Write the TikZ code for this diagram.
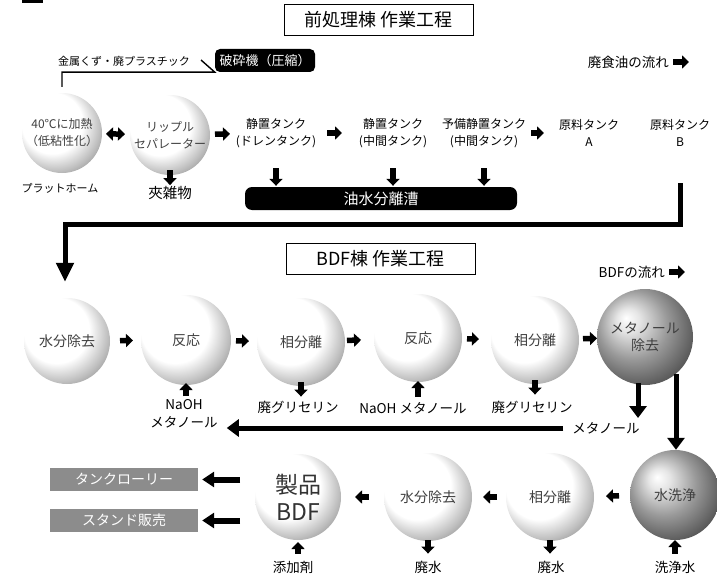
\documentclass[tikz,border=0pt]{standalone}
\usepackage{fontspec}
\setmainfont{Noto Sans CJK JP}
\usetikzlibrary{arrows.meta,calc}
\pgfdeclareradialshading{sphl}{\pgfpoint{-10bp}{10bp}}{color(0bp)=(white); color(19bp)=(white); color(28bp)=(black!25); color(36bp)=(black!50); color(43bp)=(black!70); color(50bp)=(black!80)}
\pgfdeclareradialshading{sphd}{\pgfpoint{-10bp}{10bp}}{color(0bp)=(white); color(6bp)=(black!10); color(18bp)=(black!40); color(30bp)=(black!65); color(40bp)=(black!82); color(50bp)=(black!90)}
\begin{document}
\begin{tikzpicture}[x=1pt,y=-1pt,
 sph/.style={circle,inner sep=0pt,minimum size=#1,shading=sphl,align=center,text=black!75,font=\fontsize{14}{17}\selectfont},
 sph/.default=88pt,
 dsph/.style={sph=#1,shading=sphd,text=black!75},
 dsph/.default=92pt,
 lbl/.style={align=center,inner sep=1pt,font=\fontsize{13.5}{18}\selectfont},
 tank/.style={align=center,inner sep=0pt,minimum height=70pt,font=\fontsize{12}{17}\selectfont},
 blk/.style={line width=5.5pt,-{Triangle[length=7pt,width=13pt]}},
 blkd/.style={line width=5.5pt,{Triangle[length=7pt,width=13pt]}-{Triangle[length=7pt,width=13pt]}},
 barr/.style={line width=5pt,-{Triangle[length=12pt,width=17pt]}},
 larr/.style={line width=5pt,-{Triangle[length=19pt,width=17pt]}},
 garr/.style={line width=6pt,-{Triangle[length=12pt,width=15pt]}},
 sh/.style 2 args={shorten <=#1,shorten >=#2},
 tbox/.style={draw=black,line width=0.8pt,minimum width=189pt,minimum height=31pt,inner sep=0pt,font=\fontsize{18}{20}\selectfont},
 bbox/.style={fill=black,text=white,inner sep=0pt},
 gbox/.style={fill=black!45,text=white,minimum width=148pt,minimum height=23pt,inner sep=0pt,font=\fontsize{14}{16}\selectfont}
]
\useasboundingbox (0,0) rectangle (717,583);
\fill (22,0) rectangle (43,3.5);

% ---------- pre-processing building ----------
\node[tbox] (title1) at (378.5,20) {前処理棟 作業工程};
\node[lbl,font=\fontsize{11}{13}\selectfont] (scrap) at (124,61) {金属くず・廃プラスチック};
\node[bbox,rounded corners=5pt,minimum width=100pt,minimum height=23pt,font=\fontsize{13}{15}\selectfont] (crusher) at (265,60.5) {破砕機（圧縮）};
\node[lbl,anchor=east,font=\fontsize{13.5}{16}\selectfont] (flow1) at (670,62) {廃食油の流れ};
\coordinate (f1) at (689,62);

\node[sph=80pt,font=\fontsize{12}{17}\selectfont] (r1) at (62,133) {40℃に加熱\\（低粘性化）};
\node[sph=80pt,font=\fontsize{12}{17}\selectfont] (r2) at (170,135) {リップル\\セパレーター};
\node[tank] (t1) at (276,133) {静置タンク\\(ドレンタンク)};
\node[tank] (t2) at (393,133) {静置タンク\\(中間タンク)};
\node[tank] (t3) at (484,133) {予備静置タンク\\(中間タンク)};
\node[tank] (ta) at (589,133) {原料タンク\\A};
\node[tank] (tb) at (680,133) {原料タンク\\B};
\node[lbl,font=\fontsize{11}{13}\selectfont] (plat) at (60,188) {プラットホーム};
\node[lbl,font=\fontsize{14.5}{16}\selectfont] (kz) at (170,193) {夾雑物};
\node[bbox,rounded corners=7pt,minimum width=272pt,minimum height=23pt,font=\fontsize{15}{17}\selectfont] (sep) at (381,198.5) {油水分離漕};

\draw[line width=1.4pt,shorten <=6pt] (r1.north) |- (crusher.south west) -- (201,60);
\draw[blk,shorten <=3pt] (flow1.east) -- (f1);
\draw[blkd,sh={44pt}{45pt}] (r1.center) -- (r2.center);
\draw[blk,sh={45pt}{46pt}] (r2.center) -- (t1.center);
\draw[blk,sh={51pt}{51pt}] (t1.center) -- (t2.center);
\draw[blk,sh={47pt}{45pt}] (t3.center) -- (ta.center);
\draw[blk,sh={35pt}{0pt}] (r2.center) -- (kz.north);
\draw[blk,sh={35pt}{1pt}] (t1.center) -- (t1.center |- sep.north);
\draw[blk,sh={35pt}{1pt}] (t2.center) -- (t2.center |- sep.north);
\draw[blk,sh={35pt}{1pt}] (t3.center) -- (t3.center |- sep.north);

% ---------- BDF building ----------
\node[tbox] (title2) at (380.5,258.5) {BDF棟 作業工程};
\node[lbl,anchor=east,font=\fontsize{13.5}{16}\selectfont] (flow2) at (666,272) {BDFの流れ};
\coordinate (f2) at (685,272);

\node[sph=86pt] (w1) at (67,341) {水分除去};
\node[sph=90pt] (re1) at (186,340) {反応};
\node[sph=88pt] (ph1) at (301,342) {相分離};
\node[sph=88pt] (re2) at (418,338) {反応};
\node[sph=88pt] (ph2) at (535,340) {相分離};
\node[dsph=96pt] (mr) at (645,337) {メタノール\\除去};

\node[lbl] (na1) at (184,414) {NaOH\\メタノール};
\node[lbl] (gl1) at (298,407) {廃グリセリン};
\node[lbl] (na2) at (413,408) {NaOH メタノール};
\node[lbl] (gl2) at (532,407) {廃グリセリン};
\node[lbl] (mlab) at (606,428) {メタノール};

\coordinate (lb) at (65,224);
\draw[larr,sh={50pt}{16pt}] (tb.center) |- (lb) -- (lb |- w1.north);
\draw[blk,shorten <=3pt] (flow2.east) -- (f2);
\draw[blk,sh={53pt}{53pt}] (w1.center) -- (re1.center);
\draw[blk,sh={50pt}{52pt}] (re1.center) -- (ph1.center);
\draw[blk,sh={46pt}{57pt}] (ph1.center) -- (re2.center);
\draw[blk,sh={49pt}{56pt}] (re2.center) -- (ph2.center);
\draw[blk,sh={48pt}{48pt}] (ph2.center) -- (mr.center);
\draw[blk,sh={2pt}{43pt}] (re1.center |- na1.north) -- (re1.center);
\draw[blk,sh={40pt}{3pt}] (ph1.center) -- (ph1.center |- gl1.north);
\draw[blk,sh={4pt}{43pt}] (re2.center |- na2.north) -- (re2.center);
\draw[blk,sh={40pt}{5pt}] (ph2.center) -- (ph2.center |- gl2.north);
\draw[barr,sh={46pt}{3pt}] ([xshift=-7pt]mr.center) -- ([xshift=-7pt]mr.center |- mlab.north);
\draw[barr,sh={8pt}{8pt}] (mlab.west) -- (mlab.west -| na1.east);

% ---------- third row ----------
\node[dsph=90pt] (wash) at (675,495) {水洗浄};
\node[sph=88pt] (ph3) at (550,497) {相分離};
\node[sph=88pt] (w3) at (428,497) {水分除去};
\node[sph=86pt,font=\fontsize{23}{27}\selectfont,text=black!80] (bdf) at (298,497) {製品\\BDF};
\node[gbox] (box1) at (124,479.5) {タンクローリー};
\node[gbox] (box2) at (124,520.5) {スタンド販売};
\node[lbl] (add) at (293,567) {添加剤};
\node[lbl] (ww1) at (428,567) {廃水};
\node[lbl] (ww2) at (551,567) {廃水};
\node[lbl] (wr) at (675,567) {洗浄水};

\draw[barr,sh={37pt}{0pt}] ([xshift=31pt]mr.center) -- ([xshift=31pt]mr.center |- wash.north);
\draw[blk,sh={56pt}{56pt}] (wash.center) -- (ph3.center);
\draw[blk,sh={53pt}{55pt}] (ph3.center) -- (w3.center);
\draw[blk,sh={59pt}{57pt}] (w3.center) -- (bdf.center);
\draw[garr,sh={58pt}{4pt}] (bdf.center |- box1.east) -- (box1.east);
\draw[garr,sh={58pt}{4pt}] (bdf.center |- box2.east) -- (box2.east);
\draw[blk,sh={6pt}{45pt}] (bdf.center |- add.north) -- (bdf.center);
\draw[blk,sh={43pt}{6pt}] (w3.center) -- (w3.center |- ww1.north);
\draw[blk,sh={43pt}{6pt}] (ph3.center) -- (ph3.center |- ww2.north);
\draw[blk,sh={6pt}{45pt}] (wash.center |- wr.north) -- (wash.center);
\end{tikzpicture}
\end{document}
